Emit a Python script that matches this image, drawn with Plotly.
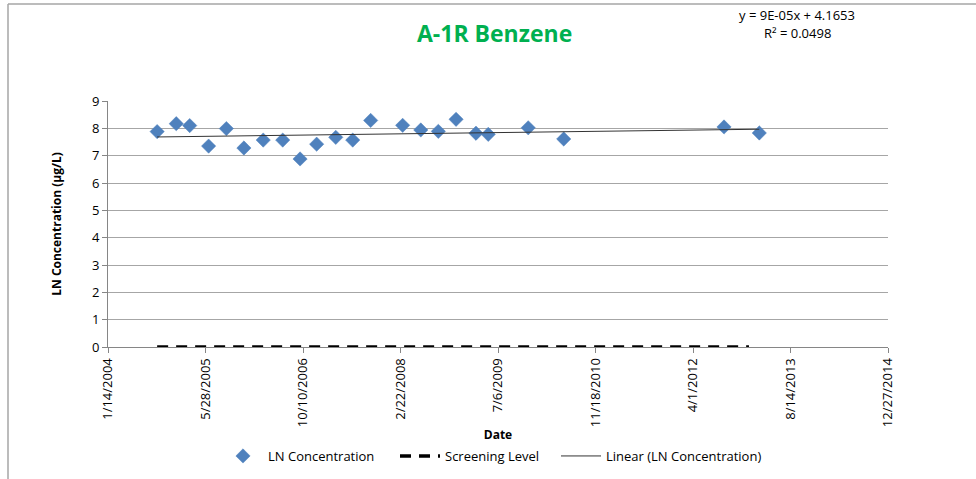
import numpy as np
import pandas as pd
import plotly.graph_objects as go

# ---- data ----
sample_dates = [
    "2004-09-22", "2004-12-29", "2005-03-08", "2005-06-13", "2005-09-12",
    "2005-12-11", "2006-03-20", "2006-06-28", "2006-09-25", "2006-12-19",
    "2007-03-27", "2007-06-22", "2007-09-22", "2008-03-04", "2008-06-05",
    "2008-09-03", "2008-12-03", "2009-03-15", "2009-05-17", "2009-12-08",
    "2010-06-08", "2012-09-07", "2013-03-07",
]
ln_concentration = [
    7.88, 8.17, 8.10, 7.35, 7.99,
    7.28, 7.57, 7.57, 6.88, 7.42,
    7.67, 7.57, 8.29, 8.11, 7.94,
    7.89, 8.33, 7.82, 7.78, 8.02,
    7.61, 8.05, 7.83,
]
screening_dates = ["2004-09-22", "2013-01-13"]
screening_level = [0, 0]

x_tick_dates = ["2004-01-14", "2005-05-28", "2006-10-10", "2008-02-22", "2009-07-06",
                "2010-11-18", "2012-04-01", "2013-08-14", "2014-12-27"]
x_tick_labels = ["1/14/2004", "5/28/2005", "10/10/2006", "2/22/2008", "7/6/2009",
                 "11/18/2010", "4/1/2012", "8/14/2013", "12/27/2014"]
y_ticks = [0, 1, 2, 3, 4, 5, 6, 7, 8, 9]

title_text = "A-1R Benzene"
equation_text = "y = 9E-05x + 4.1653"
r2_text = "R² = 0.0498"

# ---- linear trend (Excel serial dates) ----
d = pd.to_datetime(sample_dates)
serial = (d - pd.Timestamp("1899-12-30")).days.values.astype(float)
slope, intercept = np.polyfit(serial, np.array(ln_concentration), 1)
trend_x = [d.min(), d.max()]
trend_serial = np.array([serial.min(), serial.max()])
trend_y = list(slope * trend_serial + intercept)

FONT = "Open Sans"
fig = go.Figure()

fig.add_trace(go.Scatter(
    x=sample_dates, y=ln_concentration, mode="markers", name="LN Concentration",
    marker=dict(symbol="diamond", size=11, color="#4F81BD",
                line=dict(width=0.5, color="#4F81BD")),
    legend="legend",
))
fig.add_trace(go.Scatter(
    x=screening_dates, y=screening_level, mode="lines", name="Screening Level",
    line=dict(color="black", width=3.5, dash="11px,8px"),
    legend="legend2",
))
fig.add_trace(go.Scatter(
    x=trend_x, y=trend_y, mode="lines", name="Linear (LN Concentration)",
    line=dict(color="#333333", width=1),
    legend="legend3",
))

# target plot area (page px) x 108..888, y 101..347 ; body margin removed below
W, H = 976, 479
L, T = 108, 101
pw, ph = 780, 246
R, B = W - L - pw, H - T - ph

def px2paper_x(px):
    return (px - L) / pw

def px2paper_y(py):
    return (T + ph - py) / ph

def legend_at(px):
    return dict(orientation="h", x=px2paper_x(px), xanchor="left",
                y=px2paper_y(456), yanchor="middle",
                font=dict(family=FONT, size=13), itemwidth=40,
                bgcolor="rgba(0,0,0,0)")

fig.update_layout(
    width=W, height=H,
    margin=dict(l=L, r=R, t=T, b=B, autoexpand=False),
    paper_bgcolor="white", plot_bgcolor="white",
    font=dict(family=FONT, size=12, color="black"),
    showlegend=True,
    legend=legend_at(218),
    legend2=legend_at(395),
    legend3=legend_at(556),
    xaxis=dict(
        type="date", range=[x_tick_dates[0], x_tick_dates[-1]],
        tickmode="array", tickvals=x_tick_dates, ticktext=x_tick_labels,
        tickangle=-90, ticks="outside", ticklen=5, tickcolor="#868686",
        showline=True, linecolor="#868686", linewidth=1,
        showgrid=False, zeroline=False,
        tickfont=dict(family=FONT, size=13),
        title=dict(text="<b>Date</b>", font=dict(family=FONT, size=12), standoff=4),
    ),
    yaxis=dict(
        range=[0, 9], tickmode="array", tickvals=y_ticks,
        ticks="outside", ticklen=5, tickcolor="#868686",
        showline=True, linecolor="#868686", linewidth=1,
        showgrid=True, gridcolor="#A6A6A6", gridwidth=1, zeroline=False,
        tickfont=dict(family=FONT, size=13),
        title=dict(text="<b>LN Concentration (µg/L)</b>",
                   font=dict(family=FONT, size=12), standoff=27),
    ),
)

# title & equation
fig.add_annotation(text=f"<b>{title_text}</b>", xref="paper", yref="paper",
                   x=px2paper_x(494), y=px2paper_y(33), showarrow=False,
                   xanchor="center", yanchor="middle",
                   font=dict(family=FONT, size=23, color="#00B050"))
fig.add_annotation(text=equation_text, xref="paper", yref="paper",
                   x=px2paper_x(797), y=px2paper_y(15), showarrow=False,
                   xanchor="center", yanchor="middle",
                   font=dict(family=FONT, size=13, color="black"))
fig.add_annotation(text=r2_text, xref="paper", yref="paper",
                   x=px2paper_x(797), y=px2paper_y(33), showarrow=False,
                   xanchor="center", yanchor="middle",
                   font=dict(family=FONT, size=13, color="black"))

# chart-area border (top and left visible)
fig.add_shape(type="line", xref="paper", yref="paper",
              x0=px2paper_x(8), x1=px2paper_x(976), y0=px2paper_y(4), y1=px2paper_y(4),
              line=dict(color="#A6A6A6", width=1.5))
fig.add_shape(type="line", xref="paper", yref="paper",
              x0=px2paper_x(8), x1=px2paper_x(8), y0=px2paper_y(4), y1=px2paper_y(479),
              line=dict(color="#A6A6A6", width=1.5))

fig.write_html("out.html",
               config={"displayModeBar": False},
               post_script="document.body.style.margin='0';")
